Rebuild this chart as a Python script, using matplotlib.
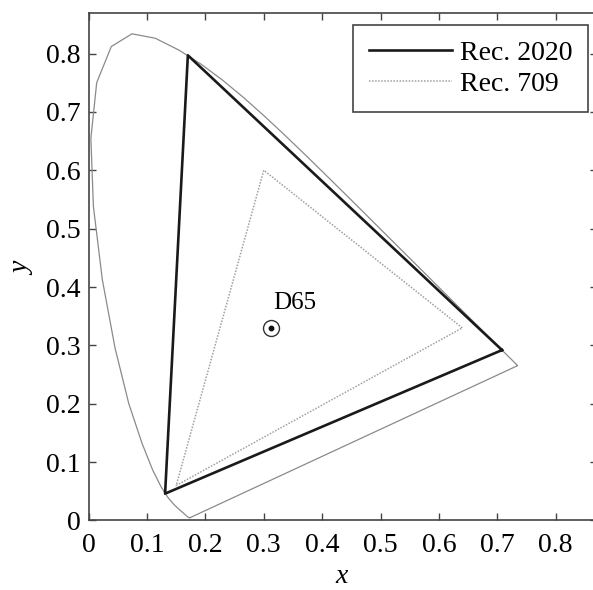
import numpy as np
import matplotlib
matplotlib.use('Agg')
import matplotlib.pyplot as plt

plt.rcParams['font.family'] = ['Liberation Serif', 'DejaVu Serif']
plt.rcParams['mathtext.fontset'] = 'custom'
plt.rcParams['mathtext.it'] = 'Liberation Serif:italic'

# CIE 1931 spectral locus (380-700 nm, 5 nm steps)
locus_x = [0.1741, 0.1740, 0.1738, 0.1736, 0.1733, 0.1730, 0.1726, 0.1721,
           0.1714, 0.1703, 0.1689, 0.1669, 0.1644, 0.1611, 0.1566, 0.1510,
           0.1440, 0.1355, 0.1241, 0.1096, 0.0913, 0.0687, 0.0454, 0.0235,
           0.0082, 0.0039, 0.0139, 0.0389, 0.0743, 0.1142, 0.1547, 0.1929,
           0.2296, 0.2658, 0.3016, 0.3373, 0.3731, 0.4087, 0.4441, 0.4788,
           0.5125, 0.5448, 0.5752, 0.6029, 0.6270, 0.6482, 0.6658, 0.6801,
           0.6915, 0.7006, 0.7079, 0.7140, 0.7190, 0.7230, 0.7260, 0.7283,
           0.7300, 0.7311, 0.7320, 0.7327, 0.7334, 0.7340, 0.7344, 0.7346,
           0.7347]
locus_y = [0.0050, 0.0050, 0.0049, 0.0049, 0.0048, 0.0048, 0.0048, 0.0048,
           0.0051, 0.0058, 0.0069, 0.0086, 0.0109, 0.0138, 0.0177, 0.0227,
           0.0297, 0.0399, 0.0578, 0.0868, 0.1327, 0.2007, 0.2950, 0.4127,
           0.5384, 0.6548, 0.7502, 0.8120, 0.8338, 0.8262, 0.8059, 0.7816,
           0.7543, 0.7243, 0.6923, 0.6589, 0.6245, 0.5896, 0.5547, 0.5202,
           0.4866, 0.4544, 0.4242, 0.3965, 0.3725, 0.3514, 0.3340, 0.3197,
           0.3083, 0.2993, 0.2920, 0.2859, 0.2809, 0.2770, 0.2740, 0.2717,
           0.2700, 0.2689, 0.2680, 0.2673, 0.2666, 0.2660, 0.2656, 0.2654,
           0.2653]

# primaries (R, G, B)
rec2020_x = [0.708, 0.170, 0.131]
rec2020_y = [0.292, 0.797, 0.046]
rec709_x = [0.64, 0.30, 0.15]
rec709_y = [0.33, 0.60, 0.06]
d65 = (0.3127, 0.3290)

fig = plt.figure(figsize=(5.93, 5.90), dpi=100)
ax = fig.add_axes([0.1494, 0.1178, 0.8567, 0.8607])

# spectral locus, closed by the purple line
ax.plot(locus_x + [locus_x[0]], locus_y + [locus_y[0]], color='#8a8a8a',
        lw=0.9, solid_joinstyle='round')

ax.plot(rec2020_x + [rec2020_x[0]], rec2020_y + [rec2020_y[0]],
        color='#1a1a1a', lw=1.9, label='Rec. 2020')
ax.plot(rec709_x + [rec709_x[0]], rec709_y + [rec709_y[0]],
        color='#a0a0a0', lw=1.1, ls=(0, (1, 1)), label='Rec. 709')

ax.plot(*d65, 'o', ms=11.5, mfc='none', mec='#333333', mew=1.0)
ax.plot(*d65, 'o', ms=3.2, color='#111111')
ax.text(d65[0] + 0.003, d65[1] + 0.024, 'D65', fontsize=18, ha='left', va='bottom')

ax.set_xlim(0, 0.87)
ax.set_ylim(0, 0.87)
ticks = np.arange(0, 0.81, 0.1)
ticklabels = ['0'] + ['%.1f' % t for t in ticks[1:]]
ax.set_xticks(ticks)
ax.set_xticklabels(ticklabels)
ax.set_yticks(ticks)
ax.set_yticklabels(ticklabels)
ax.tick_params(direction='in', top=True, right=True, length=5, width=1.0,
               color='#444444', labelsize=20, pad=6)
ax.tick_params(axis='x', pad=9)
for s in ax.spines.values():
    s.set_color('#444444')
    s.set_linewidth(1.2)

ax.set_xlabel('$x$', fontsize=20, labelpad=4)
ax.set_ylabel('$y$', fontsize=20, labelpad=8)

leg = ax.legend(loc='upper right', bbox_to_anchor=(0.983, 0.976), borderaxespad=0,
                fontsize=20, fancybox=False, framealpha=1, edgecolor='#444444',
                handlelength=3.0, borderpad=0.55, labelspacing=0.2,
                handletextpad=0.3)
leg.get_frame().set_linewidth(1.2)

fig.savefig('out.png', dpi=100)
